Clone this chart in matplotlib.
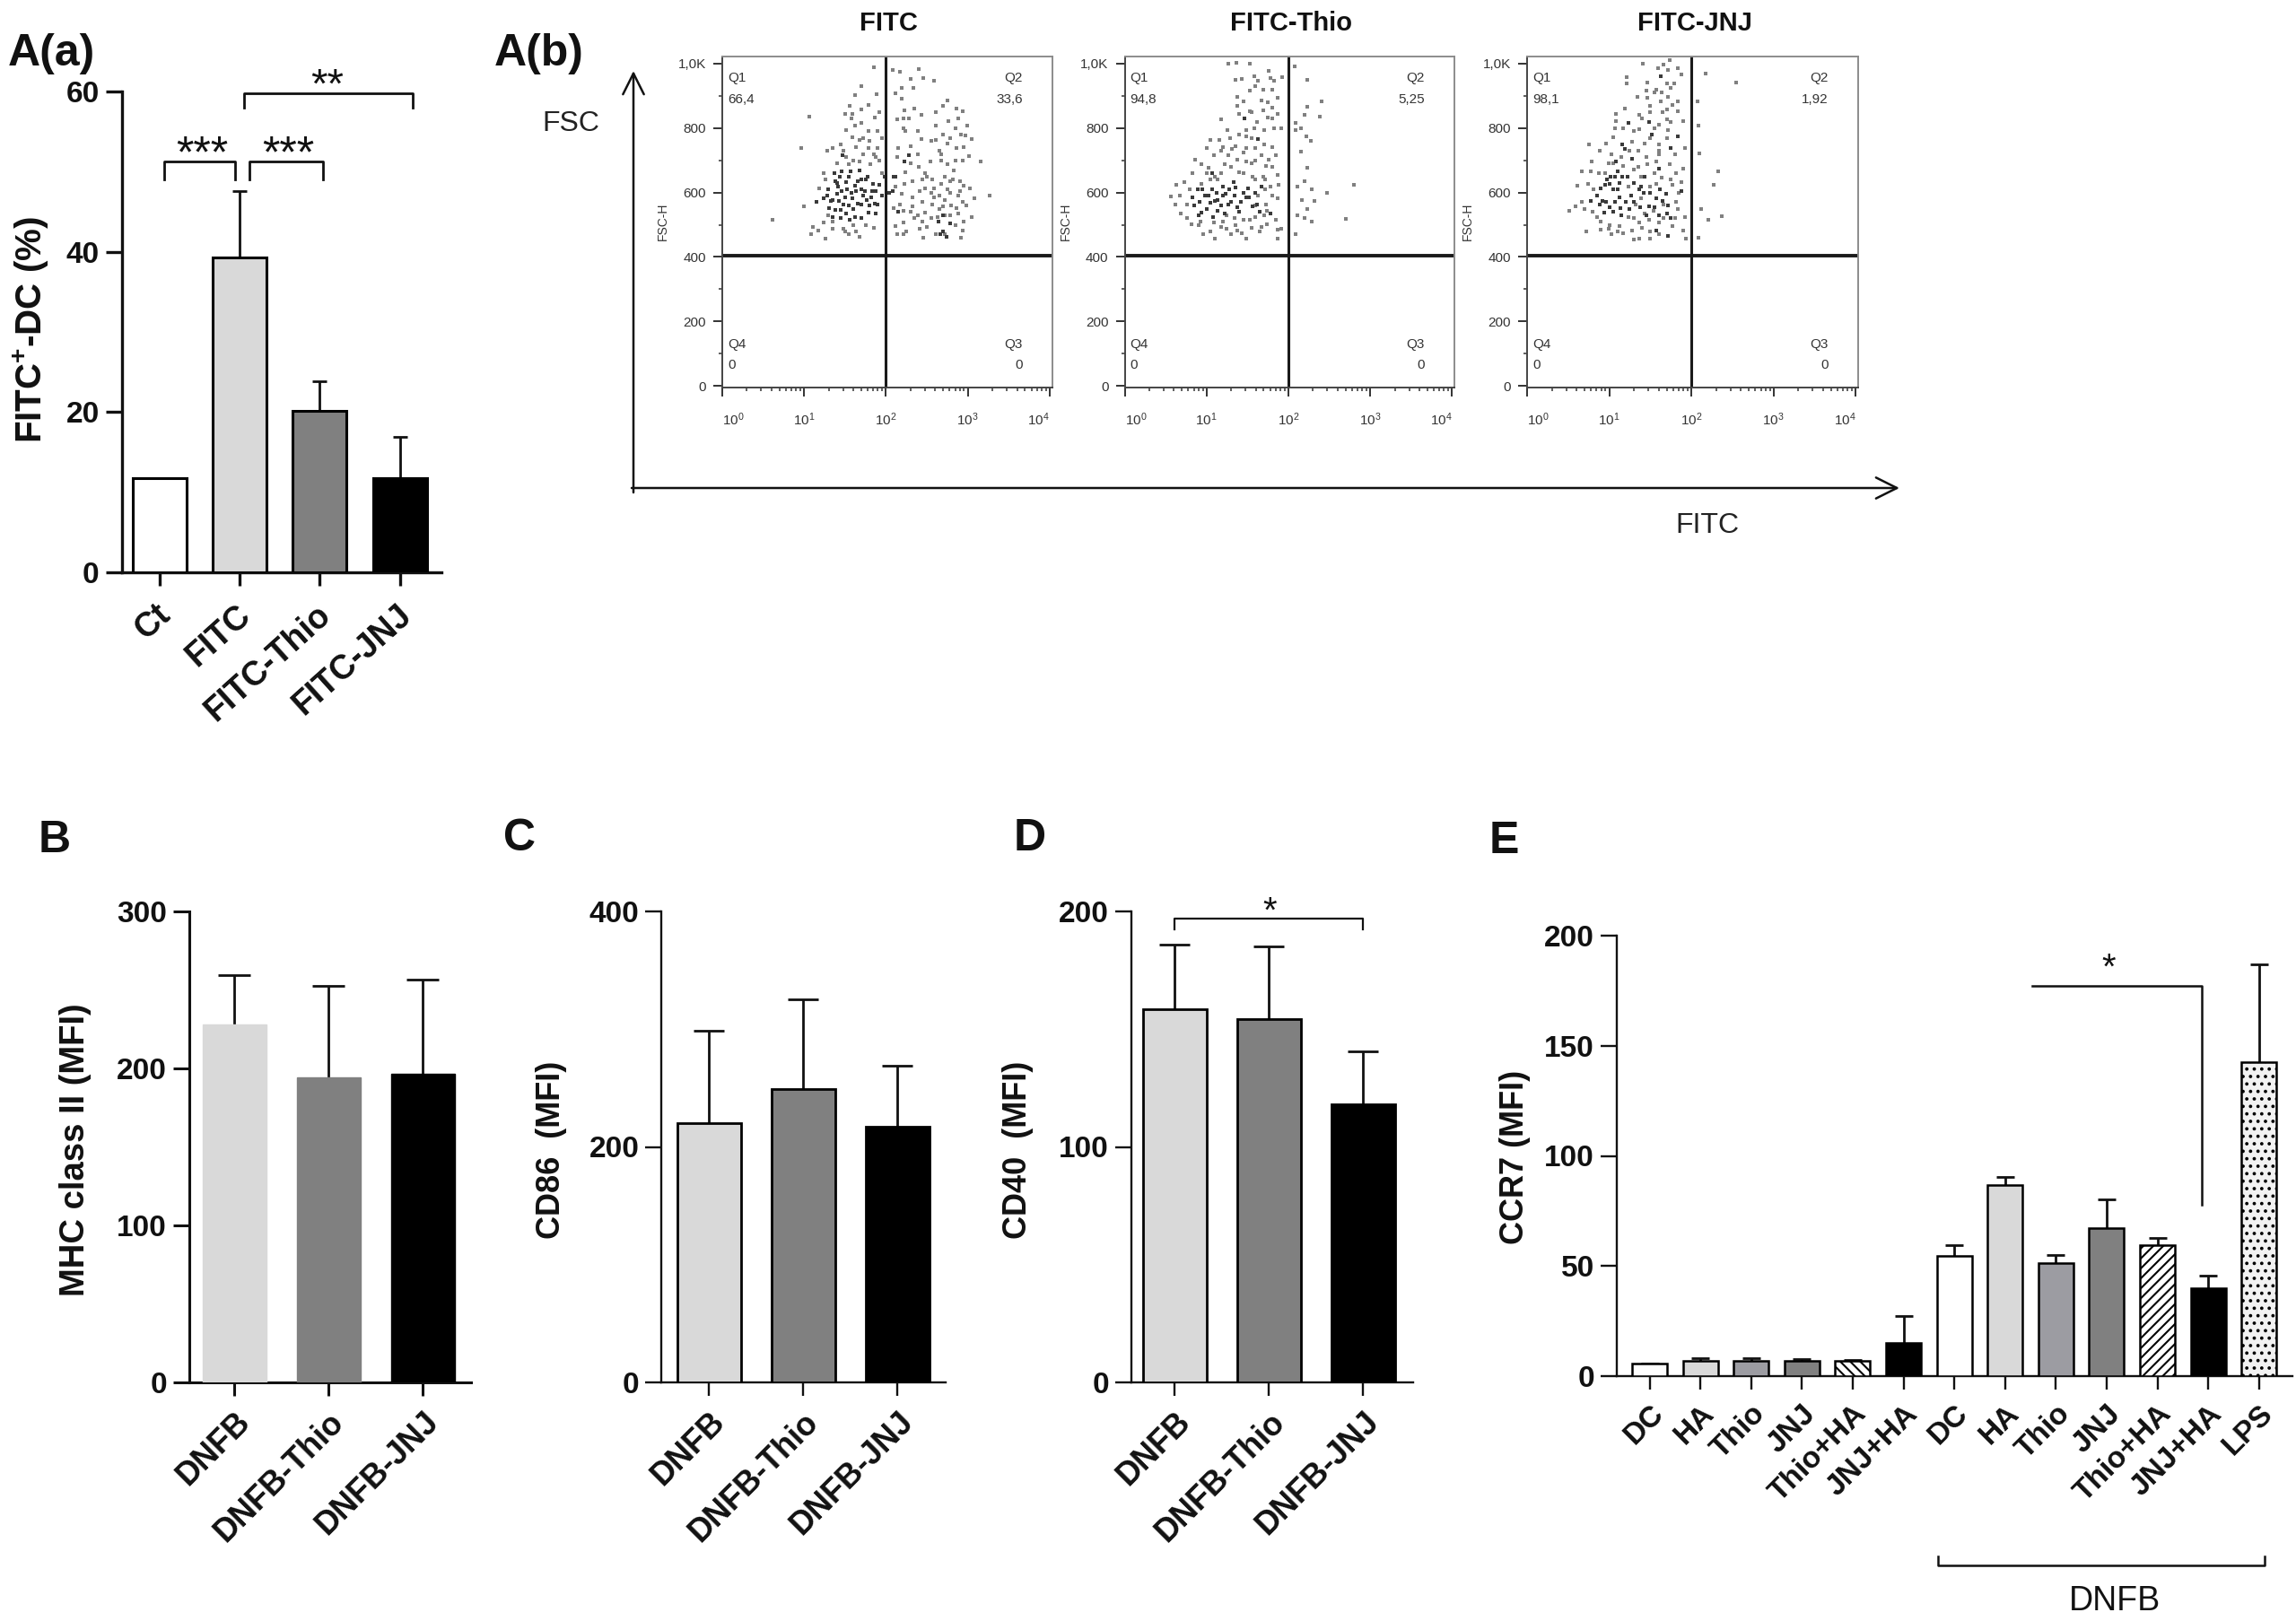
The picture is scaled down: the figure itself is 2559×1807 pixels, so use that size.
import numpy as np
import matplotlib
matplotlib.use("Agg")
import matplotlib.pyplot as plt
from matplotlib.patches import FancyArrowPatch
from matplotlib.transforms import ScaledTranslation

plt.rcParams['font.family'] = ['Liberation Sans', 'DejaVu Sans']
plt.rcParams['mathtext.default'] = 'regular'
plt.rcParams['hatch.linewidth'] = 1.5

W, H = 2559, 1807
INK = '#111111'

# panel A(a)
a_labels = ["Ct", "FITC", "FITC-Thio", "FITC-JNJ"]
a_values = [11.7, 39.3, 20.2, 11.8]
a_errors = [0, 8.3, 3.6, 5.1]
a_colors = ['white', '#d9d9d9', '#808080', 'black']

# panels B, C, D
dnfb_labels = ["DNFB", "DNFB-Thio", "DNFB-JNJ"]
dnfb_colors = ['#d9d9d9', '#808080', 'black']
b_values = [228, 194.5, 196.5]
b_errors = [31.5, 58.3, 60.1]
c_values = [220, 248.8, 217]
c_errors = [79, 76.2, 52]
d_values = [158.6, 154.1, 118]
d_errors = [27.4, 30.9, 22.7]

# panel E
e_labels = ["DC", "HA", "Thio", "JNJ", "Thio+HA", "JNJ+HA",
            "DC", "HA", "Thio", "JNJ", "Thio+HA", "JNJ+HA", "LPS"]
e_values = [5.8, 6.9, 6.9, 6.9, 6.9, 15, 54.7, 86.7, 51.4, 67.4, 59.3, 40.1, 142.6]
e_errors = [0, 1.1, 1.1, 0.9, 0.3, 12.2, 4.6, 3.7, 3.5, 12.9, 3.4, 5.6, 44.3]
e_colors = ['white', '#d9d9d9', '#9c9ca2', '#808080', 'white', 'black',
            'white', '#d9d9d9', '#9c9ca2', '#808080', 'white', 'black', '#f2f2f2']
e_hatches = ['', '', '', '', '\\\\\\', '', '', '', '', '', '///', '', '..']

# flow cytometry panels, FITC as log10 and FSC-H
p1_dark_fitc = [1.41,1.48,1.59,1.72,1.77,1.42,1.51,1.66,1.46,1.68,1.88,1.90,1.37,1.28,1.35,1.53,1.64,1.84,
                1.75,1.57,1.15,1.24,1.31,1.51,1.62,1.79,1.88,1.50,1.70,1.82,1.99,2.04,2.12,2.23,1.47,2.28,
                1.30,1.33,1.38,1.43,1.45,1.55,1.60,1.66,1.70,1.74,1.80,1.83,1.86,1.58,1.40,1.46,1.62,1.70,
                1.78,1.55,1.38,1.44,1.92,1.95,1.35,1.45,1.56,1.70,2.66,2.70,2.74,2.78,2.64,2.70,2.08,2.15,2.10]
p1_dark_fsc = [595,562,581,590,576,618,632,636,666,669,604,562,660,590,576,609,604,627,
               641,666,572,581,553,534,525,539,534,585,562,585,650,599,650,697,715,715,
               610,575,545,575,545,560,548,565,610,605,560,605,565,600,630,605,620,640,
               650,650,635,650,625,590,525,520,515,520,470,478,462,505,510,530,605,540,650]
p1_fitc = [1.09,1.17,1.26,1.35,1.48,1.55,1.64,1.68,1.24,1.11,1.00,1.30,1.19,1.26,1.24,1.35,1.28,1.48,1.55,1.68,
           1.81,1.72,1.79,1.90,1.88,1.59,1.68,1.79,1.90,1.51,1.62,1.70,1.86,1.70,1.56,1.50,1.59,1.79,1.62,1.70,
           1.89,1.85,2.08,2.17,2.12,2.19,2.19,2.30,2.34,2.40,2.46,2.59,2.75,2.61,2.86,2.94,2.23,2.21,2.28,2.14,
           2.21,2.24,2.39,2.43,2.61,2.76,2.88,2.99,2.70,2.61,2.85,2.97,3.05,2.43,2.30,2.39,2.14,2.15,2.65,2.68,
           2.75,2.86,3.01,2.94,3.16,2.54,2.75,2.83,2.72,2.50,2.57,2.48,2.24,2.32,2.23,2.12,2.19,2.32,2.41,2.48,
           2.59,2.68,2.79,2.90,3.03,3.08,3.27,2.90,2.79,2.72,2.59,2.45,2.32,2.17,2.21,2.10,2.39,2.48,2.57,2.70,
           2.86,2.94,3.05,2.88,2.79,2.72,2.63,2.50,2.41,2.21,2.12,2.14,2.21,2.46,2.61,2.72,2.94,2.92,0.97,1.07,0.62,
           1.60,1.64,1.72,1.80,1.85,1.92,1.95,1.40,1.52,1.45,1.58,1.92,1.95,2.30,2.40,2.45,2.55,2.65,2.75,2.82,
           2.88,2.95,2.98,2.85,2.95,2.80,2.65,2.55,2.45,2.35,2.25,2.30,2.85,2.78,2.68,2.92,2.95,2.55,2.35,2.70,
           1.50,1.35,1.60,1.75,1.85]
p1_fsc = [470,481,456,488,488,470,479,462,507,493,558,530,613,641,660,739,729,729,688,697,
          688,720,739,739,711,771,762,790,790,794,808,817,833,859,869,845,845,873,901,929,
          906,989,980,975,907,924,892,952,924,982,954,947,887,850,861,852,855,831,831,827,
          799,790,790,841,808,822,831,808,780,762,799,776,766,766,743,720,711,739,729,720,
          753,739,713,700,697,697,688,669,650,650,641,660,664,636,627,618,595,585,604,613,
          613,627,636,636,613,581,590,604,599,576,585,572,558,562,544,553,530,539,562,558,
          553,572,525,534,530,530,525,493,488,507,497,470,470,460,470,470,483,460,737,836,516,
          700,740,770,760,720,700,660,690,710,750,830,850,770,690,680,640,600,590,610,640,
          590,620,560,500,510,560,550,520,510,520,480,540,700,770,700,780,740,760,860,870,
          480,510,500,500,490]

p2_dark_fitc = [0.92,0.98,1.05,1.14,0.89,1.07,0.94,1.14,1.27,1.42,1.49,1.56,1.34,1.23,1.33,1.51,1.67,1.78,
                1.46,0.83,1.07,1.63,1.62,1.20,
                0.95,1.00,1.03,1.10,1.12,1.18,1.22,1.30,1.38,1.45,1.52,1.40,0.85,0.90,1.60,1.35,1.08,1.28,1.20,1.65]
p2_dark_fsc = [572,590,567,576,609,609,539,544,562,572,585,558,590,595,632,613,618,534,
               831,585,660,766,562,618,
               610,550,590,575,600,560,535,570,555,600,585,540,560,530,600,615,525,610,590,540]
p2_fitc = [0.56,0.62,0.63,0.73,0.67,0.76,0.69,0.76,0.82,0.93,0.96,1.05,1.09,1.10,1.18,1.25,1.25,1.38,1.49,1.43,
           1.34,1.53,1.65,1.67,1.74,1.87,1.85,1.91,1.60,1.73,1.74,1.87,1.78,1.88,1.63,1.56,1.69,1.73,1.67,1.76,
           1.85,1.87,1.49,1.38,1.22,1.27,1.09,1.18,1.31,1.40,1.18,0.94,0.86,0.83,1.03,1.13,0.94,1.00,1.05,1.16,
           1.29,1.49,1.60,1.49,1.26,1.49,1.59,1.71,1.83,1.91,1.18,1.75,1.40,1.53,1.69,1.80,1.87,1.38,1.45,1.67,
           1.38,1.87,1.53,1.60,1.69,1.80,1.43,1.63,1.35,1.58,1.78,1.83,1.76,1.27,1.37,1.53,1.93,2.08,2.23,2.41,
           2.23,2.20,2.38,2.09,2.15,2.09,2.22,2.28,2.15,2.23,2.20,2.80,2.11,2.29,2.47,2.17,2.32,2.23,2.11,2.20,
           2.29,2.70,2.09,1.87,
           1.00,1.10,1.30,1.45,1.55,1.60,1.72,1.80,1.45,1.35,1.60,1.70,1.20,1.40,1.55,1.80,1.05,1.20,1.35,1.45,
           1.55,1.70,1.80,1.60,1.72,1.30,1.55,1.75,1.62,1.80,0.90,0.80]
p2_fsc = [587,562,623,632,590,562,534,520,502,511,470,479,507,456,493,530,488,483,457,474,
          520,516,479,493,502,456,516,488,525,562,544,581,618,623,590,650,650,683,715,701,
          715,655,697,701,688,715,715,729,734,664,660,688,703,660,678,641,627,737,762,762,
          768,739,739,774,794,794,799,794,798,798,827,833,845,852,855,864,845,869,882,887,
          898,895,915,929,920,920,952,947,950,961,954,947,978,1000,1003,1000,957,991,950,884,
          866,841,836,817,799,794,774,759,727,676,634,624,618,611,599,576,573,548,530,520,
          511,519,470,486,
          660,650,680,660,690,640,640,680,725,745,700,750,740,780,770,740,640,510,500,515,
          490,530,590,560,610,470,850,880,820,830,500,610]

p3_dark_fitc = [0.78,0.88,0.96,1.07,1.12,0.94,1.14,1.01,0.97,1.07,1.16,1.05,0.90,1.16,1.19,1.28,1.08,1.52,
                1.83,1.75,1.69,1.88,1.36,1.39,1.27,1.57,1.48,1.25,1.70,1.72,1.57,1.23,1.48,1.63,1.43,1.60,
                0.85,0.92,1.00,1.05,1.10,1.20,1.30,1.38,1.45,1.55,1.65,1.72,0.95,1.02,1.12,1.10,1.22,1.30,
                1.50,1.62,1.75,1.60,1.42,1.15]
p3_dark_fsc = [573,562,572,572,585,539,553,627,641,650,650,609,613,748,734,706,697,780,
               774,739,597,604,609,618,590,581,558,548,534,465,483,817,820,961,650,675,
               590,575,555,540,610,570,570,555,530,555,575,560,625,650,630,665,650,630,
               600,610,520,530,600,530]
p3_fitc = [0.51,0.59,0.67,0.61,0.67,0.74,0.78,0.79,0.75,0.88,0.96,1.05,1.03,0.99,1.17,0.87,0.81,0.85,0.72,0.90,
           0.99,1.03,1.17,1.12,1.28,1.23,1.37,1.30,1.37,1.50,1.48,1.61,1.66,1.77,1.90,1.92,1.83,1.81,1.43,1.54,
           1.32,1.39,1.66,1.50,1.57,1.77,1.88,1.23,1.64,1.46,1.57,1.74,1.90,1.81,1.39,1.35,1.43,1.28,1.61,1.61,
           1.92,1.37,1.07,1.17,1.61,1.72,1.90,1.70,1.08,1.08,1.19,1.36,1.50,1.50,1.70,1.84,1.77,1.84,1.63,1.34,
           1.46,1.72,1.45,1.57,1.75,1.64,1.21,1.21,1.46,1.70,1.79,1.59,1.72,1.84,1.88,1.66,1.41,1.74,2.08,2.17,
           2.54,2.09,2.10,2.33,2.27,2.12,2.21,2.37,2.09,1.93,
           0.70,0.80,0.90,1.00,1.10,1.30,1.40,1.50,1.60,1.80,1.85,1.75,1.55,1.45,1.35,1.25,1.15,1.05,0.95,1.30,
           1.50,1.70,1.80,1.55,1.40,1.65,1.55,1.30,1.60,1.75]
p3_fsc = [544,558,572,620,666,627,666,697,748,729,753,771,720,692,683,660,609,525,479,486,
          488,470,474,497,483,525,507,453,457,456,516,507,521,497,483,525,548,572,534,544,
          562,581,562,618,627,623,632,618,646,688,697,688,674,660,650,729,753,757,748,729,
          739,797,799,799,811,794,822,827,822,845,861,841,850,870,859,852,873,884,882,896,
          895,896,917,920,924,910,938,957,941,938,938,985,980,985,966,998,1000,1012,882,969,
          941,808,722,667,625,548,516,527,460,456,
          550,540,510,500,480,520,490,480,470,520,600,640,660,710,680,730,710,690,660,790,
          770,770,720,800,830,850,910,670,720,820]

flow_titles = ["FITC", "FITC-Thio", "FITC-JNJ"]
flow_q1 = ["66,4", "94,8", "98,1"]
flow_q2 = ["33,6", "5,25", "1,92"]
fsc_ticks = [0, 200, 400, 600, 800, 1000]
fsc_ticklabels = ["0", "200", "400", "600", "800", "1,0K"]
fitc_ticks = [1, 10, 100, 1000, 10000]
fsc_gate = 405
fitc_gate = 100


fig = plt.figure(figsize=(W / 100, H / 100), dpi=100)

# full figure overlay in pixels for free text and arrows
ov = fig.add_axes([0, 0, 1, 1], zorder=10)
ov.set_xlim(0, W)
ov.set_ylim(H, 0)
ov.axis("off")


def px_axes(left, top, right, bottom):
    return fig.add_axes([left / W, 1 - bottom / H, (right - left) / W, (bottom - top) / H])


def bar_panel(rect, x0, dx, width, values, errors, colors, labels, yticks, ymax,
              edge='black', lw=2.0, spine=2.2, cap=12, angle=45, fs=24, xfs=26, hatches=None, xpad=8):
    ax = px_axes(*rect)
    ax.patch.set_alpha(0)
    pos = np.arange(len(values))
    _, caps, _ = ax.errorbar(pos, values, yerr=[np.zeros(len(values)), errors], fmt='none', ecolor=INK,
                             elinewidth=2.0, capsize=cap, capthick=2.0, zorder=2)
    caps[0].set_visible(False)
    bars = ax.bar(pos, values, width=width / dx, color=colors, edgecolor=edge, linewidth=lw, zorder=3)
    if edge is None:
        for b, c in zip(bars, colors):
            b.set_edgecolor(c)
    if hatches:
        for b, h in zip(bars, hatches):
            b.set_hatch(h)
    ax.set_xlim((rect[0] - x0) / dx, (rect[2] - x0) / dx)
    ax.set_ylim(0, ymax)
    ax.set_yticks(yticks)
    ax.set_xticks(pos)
    ax.set_xticklabels(labels, rotation=angle, ha='right', va='top', rotation_mode='anchor',
                       fontsize=xfs, fontweight='bold', color=INK)
    for s in ['top', 'right']:
        ax.spines[s].set_visible(False)
    for s in ['left', 'bottom']:
        ax.spines[s].set_linewidth(spine)
        ax.spines[s].set_color(INK)
    ax.tick_params(axis='y', length=13, width=spine, pad=5, labelsize=fs, labelcolor=INK, color=INK)
    ax.tick_params(axis='x', length=11, width=spine, pad=xpad, color=INK)
    for t in ax.get_yticklabels():
        t.set_fontweight('bold')
    return ax


def bracket(ax, x1, x2, top, low, lw=2.0):
    ax.plot([x1, x1, x2, x2], [low, top, top, low], color=INK, lw=lw, clip_on=False, zorder=5)


def stars(x, y, s, size, weight='bold'):
    # y is the middle of the asterisk, which sits high above the baseline
    ov.text(x, y + 0.57 * size * 100 / 72, s, fontsize=size, fontweight=weight, color=INK,
            ha='center', va='baseline')


# A(a)
ax_a = bar_panel((135.7, 102, 492, 638), 177.5, 89.4, 60, a_values, a_errors, a_colors, a_labels,
                 [0, 20, 40, 60], 60, lw=2.2, spine=2.4, cap=5.5, angle=42, fs=24, xfs=27, xpad=10)
# labels sit a bit left of their ticks here
for t in ax_a.get_xticklabels():
    t.set_transform(t.get_transform() + ScaledTranslation(-3 / 72, 0, fig.dpi_scale_trans))
bracket(ax_a, 0.06, 0.94, 51.3, 49.0)
bracket(ax_a, 1.125, 2.04, 51.3, 49.0)
bracket(ax_a, 1.06, 3.16, 59.8, 58.0)
stars(225, 158, "***", 36, weight='normal')
stars(321, 158, "***", 36, weight='normal')
stars(365, 82, "**", 34, weight='normal')

# B, C, D
ax_b = bar_panel((211, 1016, 525, 1541), 261, 105, 71, b_values, b_errors, dnfb_colors, dnfb_labels,
                 [0, 100, 200, 300], 300, edge=None, lw=1.0, spine=2.2, cap=13)
ax_c = bar_panel((737.4, 1016, 1054, 1541), 790, 105, 71, c_values, c_errors, dnfb_colors, dnfb_labels,
                 [0, 200, 400], 400, spine=1.7, cap=12)
ax_d = bar_panel((1261, 1016, 1574.5, 1541), 1309.4, 105, 71, d_values, d_errors, dnfb_colors, dnfb_labels,
                 [0, 100, 200], 200, spine=1.7, cap=12)
bracket(ax_d, 0, 2, 197, 192.2, lw=1.6)
stars(1415, 1005, "*", 29, weight='normal')

# E
ax_e = bar_panel((1802, 1043, 2555, 1534), 1838.5, 56.6, 39, e_values, e_errors, e_colors, e_labels,
                 [0, 50, 100, 150, 200], 200, lw=1.8, spine=1.7, cap=7.5, fs=24, xfs=24, hatches=e_hatches)
ax_e.plot([7.53, 10.87, 10.87], [177, 177, 78], color=INK, lw=1.8, clip_on=False, zorder=5)
stars(2350, 1068, "*", 29, weight='normal')
ov.plot([2160, 2160, 2523.5, 2523.5], [1734.5, 1744.6, 1744.6, 1734.5], color=INK, lw=1.8)
ov.text(2357, 1785, "DNFB", fontsize=27, color=INK, ha='center', va='center')

# y axis titles
ov.text(35, 368, "FITC$^{+}$-DC (%)", fontsize=29, fontweight='bold', color=INK, rotation=90, ha='center', va='center')
ov.text(84, 1282, "MHC class II (MFI)", fontsize=27.5, fontweight='bold', color=INK, rotation=90, ha='center', va='center')
ov.text(614, 1282, "CD86  (MFI)", fontsize=26, fontweight='bold', color=INK, rotation=90, ha='center', va='center')
ov.text(1135, 1282, "CD40  (MFI)", fontsize=26, fontweight='bold', color=INK, rotation=90, ha='center', va='center')
ov.text(1689, 1290, "CCR7 (MFI)", fontsize=26, fontweight='bold', color=INK, rotation=90, ha='center', va='center')

# panel letters
for x, y, s in [(57, 60, "A(a)"), (601, 60, "A(b)"), (61, 937, "B"), (579, 935, "C"), (1148, 935, "D"), (1676, 938, "E")]:
    ov.text(x, y, s, fontsize=36, fontweight='bold', color=INK, ha='center', va='center')


def flow_panel(left, right, title, q1, q2, fitc, fsc, dark_fitc, dark_fsc):
    ax = px_axes(left, 63, right, 432)
    ax.set_xscale('log')
    ax.set_xlim(1, 10 ** 4.03)
    ax.set_ylim(-5, 1022)
    ax.scatter(10 ** np.array(fitc), fsc, s=5, marker='s', color='#808080', linewidths=0)
    ax.scatter(10 ** np.array(dark_fitc), dark_fsc, s=6, marker='s', color='#3a3a3a', linewidths=0)
    ax.axhline(fsc_gate, color='#1a1a1a', lw=2.8)
    ax.axvline(fitc_gate, color='#1a1a1a', lw=2.2)
    for s in ['top', 'right']:
        ax.spines[s].set_color('#8c8c8c')
        ax.spines[s].set_linewidth(1.4)
    for s in ['left', 'bottom']:
        ax.spines[s].set_color('#444444')
        ax.spines[s].set_linewidth(1.4)
    ax.set_yticks(fsc_ticks)
    ax.set_yticklabels(fsc_ticklabels)
    ax.set_yticks(np.arange(0, 1001, 100), minor=True)
    ax.set_xticks(fitc_ticks)
    ax.set_xticklabels([f"$10^{{{n}}}$" for n in range(5)])
    ax.tick_params(axis='both', which='major', length=7, width=1.4, color='#333333', labelsize=11, labelcolor='#333333')
    ax.tick_params(axis='both', which='minor', length=3, width=1.2, color='#444444')
    ax.tick_params(axis='x', which='major', pad=12)
    ax.tick_params(axis='y', which='major', pad=6)
    labs = ax.get_xticklabels()
    labs[0].set_ha('left')
    labs[-1].set_ha('right')
    for x, y, s, ha in [(0.017, 0.935, "Q1", 'left'), (0.017, 0.871, q1, 'left'),
                        (0.91, 0.935, "Q2", 'right'), (0.91, 0.871, q2, 'right'),
                        (0.017, 0.13, "Q4", 'left'), (0.017, 0.068, "0", 'left'),
                        (0.91, 0.13, "Q3", 'right'), (0.91, 0.068, "0", 'right')]:
        ax.text(x, y, s, transform=ax.transAxes, fontsize=11, color='#333333', ha=ha, va='center')
    ov.text(left - 66, 247, "FSC-H", fontsize=10, color='#333333', rotation=90, ha='center', va='center')
    ov.text((left + right) / 2 + 2, 26, title, fontsize=21, fontweight='bold', color=INK, ha='center', va='center')
    return ax


flow_panel(804.7, 1172.7, flow_titles[0], flow_q1[0], flow_q2[0], p1_fitc, p1_fsc, p1_dark_fitc, p1_dark_fsc)
flow_panel(1253.5, 1621, flow_titles[1], flow_q1[1], flow_q2[1], p2_fitc, p2_fsc, p2_dark_fitc, p2_dark_fsc)
flow_panel(1702, 2071, flow_titles[2], flow_q1[2], flow_q2[2], p3_fitc, p3_fsc, p3_dark_fitc, p3_dark_fsc)

# big FSC / FITC arrows
ov.add_patch(FancyArrowPatch((706, 549), (706, 79), arrowstyle='->', mutation_scale=42, lw=1.8, color=INK, shrinkA=0, shrinkB=0))
ov.add_patch(FancyArrowPatch((704, 544), (2117, 544), arrowstyle='->', mutation_scale=42, lw=1.8, color=INK, shrinkA=0, shrinkB=0))
ov.text(636, 138, "FSC", fontsize=23, color='#222222', ha='center', va='center')
ov.text(1902.6, 586, "FITC", fontsize=23, color='#222222', ha='center', va='center')

fig.savefig("out.png", dpi=100)
